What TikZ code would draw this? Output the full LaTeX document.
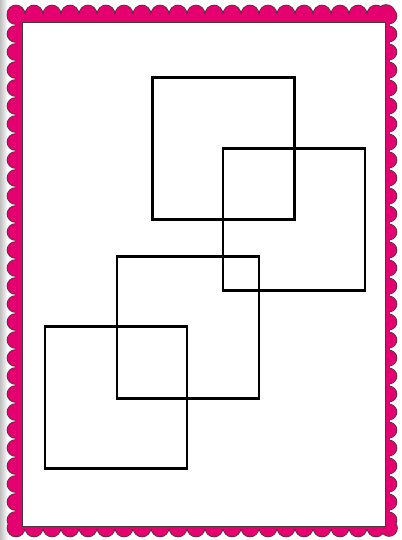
\documentclass[tikz,border=0pt]{standalone}
\usetikzlibrary{positioning}
\definecolor{framepink}{HTML}{E5006F}
\definecolor{edgegrey}{HTML}{4A3A40}
\tikzset{
  scallop/.style={fill=framepink,draw=edgegrey,line width=1.6pt},
  scallopfill/.style={fill=framepink},
  tile/.style={draw=black,line width=2.6pt,minimum size=142pt,inner sep=0pt,outer sep=0pt}
}
\newcommand{\scallops}[1]{%
  \foreach \x in {16,34,...,386} {
    \path[#1] (\x,14) circle (8.5);
    \path[#1] (\x,528) circle (8.5);
  }
  \foreach \y in {16,34,...,520} {
    \path[#1] (15.5,\y) circle (8);
    \path[#1] (389,\y) circle (7.5);
  }
  \path[#1] (386,14) circle (9);
  \path[#1] (389,528) circle (8);
}
\begin{document}
\begin{tikzpicture}[x=1pt,y=-1pt]
  \useasboundingbox (0,0) rectangle (401,540);
  % left shadow
  \shade[left color=black!25,right color=white] (0,0) rectangle (8,540);
  % scallops round the frame: outline pass, then fill pass
  \scallops{scallop}
  \scallops{scallopfill}
  % pink band and white card
  \fill[framepink] (15,14) rectangle (390,529);
  \draw[fill=white,draw=edgegrey,line width=0.8pt] (22,22) rectangle (385,526);
  % four squares
  \node[tile] (sq1) at (223.5,148.5) {};
  \node[tile] (sq2) at (294,219.5) {};
  \node[tile] (sq3) at (188,327.5) {};
  \node[tile] (sq4) at (116,397.5) {};
\end{tikzpicture}
\end{document}
